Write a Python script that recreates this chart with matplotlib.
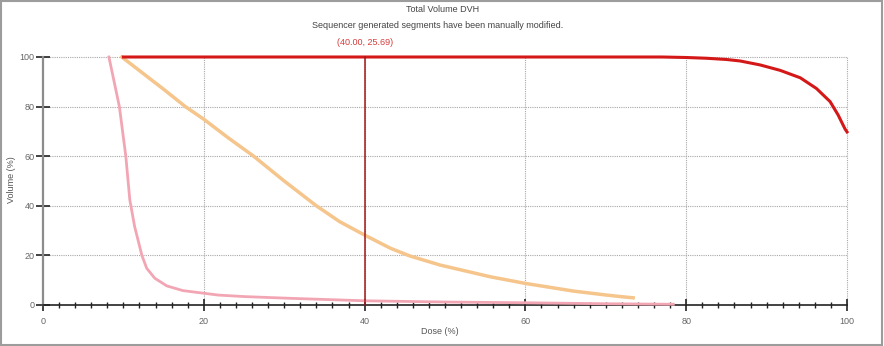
import matplotlib
matplotlib.use("Agg")
import matplotlib.pyplot as plt
from matplotlib.patches import Rectangle
from matplotlib.ticker import MultipleLocator

plt.rcParams['font.family'] = ['Liberation Sans', 'DejaVu Sans']

# 剂量-体积数据
ptv_dose = [10, 77, 80, 82.5, 85, 86.7, 89.2, 91.7, 94.2, 96.2, 97.9, 98.9, 99.75, 100]
ptv_vol = [100, 100, 99.8, 99.5, 99, 98.4, 96.8, 94.6, 91.6, 87.3, 82, 76.6, 71, 69.8]

org_dose = [9.8, 12, 15, 17.7, 20, 23, 26.2, 30, 34, 36.9, 40, 43.2, 45.6, 49.4,
            53.5, 55.6, 60, 66, 70.1, 71.8, 73.4]
org_vol = [100, 94.5, 87, 80, 74.9, 67.5, 60, 50, 40, 33.6, 28.2, 22.9, 19.8, 16.1,
           13.0, 11.4, 8.7, 5.6, 4, 3.4, 2.9]

pink_dose = [8.2, 9.5, 10.3, 10.8, 11.4, 12.3, 12.9, 13.9, 15.4, 17.4, 20.1, 21.8,
             25, 30.7, 40, 50, 60, 70, 78.4]
pink_vol = [100, 80, 60, 42.3, 31.6, 20, 14.8, 10.8, 7.7, 5.8, 4.7, 4.0,
            3.4, 2.7, 1.7, 1.2, 0.9, 0.5, 0.3]

cursor_x = 40
cursor_txt = "(40.00, 25.69)"

fig = plt.figure(figsize=(8.84, 3.46), dpi=100)
ax = fig.add_axes([43/884, 1-305/346, 804/884, 248/346])

ax.set_xlim(0, 100)
ax.set_ylim(0, 100)

# 网格
for v in [20, 40, 60, 80, 100]:
    ax.axvline(v, color='#a8a8a8', lw=0.8, ls=(0, (1, 1)), zorder=1, clip_on=False)
    ax.axhline(v, color='#a8a8a8', lw=0.8, ls=(0, (1, 1)), zorder=1, clip_on=False)

ax.plot(pink_dose, pink_vol, color='#f2a6b4', lw=2, zorder=3, clip_on=False)
ax.plot(org_dose, org_vol, color='#f5c58c', lw=2.5, zorder=3, clip_on=False)
ax.plot(ptv_dose, ptv_vol, color='#d41818', lw=2.2, zorder=4, clip_on=False)
ax.plot([cursor_x, cursor_x], [0, 100], color='#9e1a1a', lw=1.1, zorder=5, clip_on=False)
ax.text(cursor_x, 106, cursor_txt, color='#d83a3a', fontsize=6.5, ha='center', va='center')

for s in ['top', 'right']:
    ax.spines[s].set_visible(False)
ax.spines['left'].set_color('#8c8c8c')
ax.spines['left'].set_linewidth(1.6)
ax.spines['bottom'].set_color('#222222')
ax.spines['bottom'].set_linewidth(1.2)

ax.xaxis.set_major_locator(MultipleLocator(20))
ax.xaxis.set_minor_locator(MultipleLocator(2))
ax.yaxis.set_major_locator(MultipleLocator(20))
ax.yaxis.set_minor_locator(MultipleLocator(10))
ax.tick_params(axis='x', which='major', direction='inout', length=9, width=1.2,
               color='#222222', labelsize=6.5, labelcolor='#666666', pad=4)
ax.tick_params(axis='x', which='minor', direction='inout', length=4, width=1,
               color='#222222')
ax.tick_params(axis='y', which='major', direction='inout', length=10, width=1.2,
               color='#222222', labelsize=6.5, labelcolor='#666666', pad=1)
ax.tick_params(axis='y', which='minor', direction='inout', length=2, width=1.5,
               color='#333333')

fig.text(443/884, 1-9/346, "Total Volume DVH", fontsize=6.5, color='#444444',
         ha='center', va='center')
fig.text(438/884, 1-26/346, "Sequencer generated segments have been manually modified.",
         fontsize=6.5, color='#444444', ha='center', va='center')
fig.text(12/884, 1-180/346, "Volume (%)", fontsize=6.5, color='#555555',
         rotation=90, ha='center', va='center')
fig.text(440/884, 1-332/346, "Dose (%)", fontsize=6.5, color='#555555',
         ha='center', va='center')

fig.patches.append(Rectangle((0.001, 0.002), 0.997, 0.995, transform=fig.transFigure,
                             fill=False, edgecolor='#9c9c9c', lw=1.5))

fig.savefig("out.png", dpi=100)
